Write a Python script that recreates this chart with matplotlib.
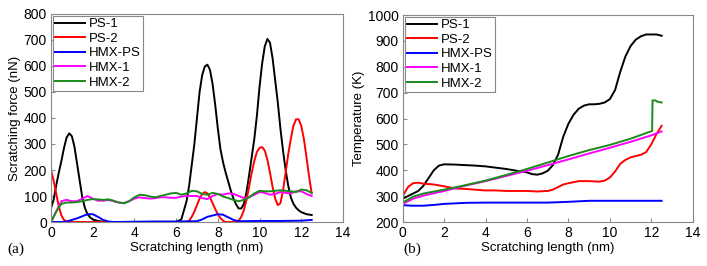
import matplotlib
matplotlib.use("Agg")
import matplotlib.pyplot as plt

# ---------------- Panel (a): scratching force ----------------
x_ps1_f = [0.0, 0.125, 0.25, 0.375, 0.5, 0.625, 0.75, 0.875, 1.0, 1.125, 1.25, 1.375, 1.5, 1.625,
           1.75, 1.875, 2.0, 2.25, 2.5, 2.75, 6.0, 6.25, 6.5, 6.625, 6.75, 6.875, 7.0, 7.125, 7.25,
           7.375, 7.5, 7.625, 7.75, 7.875, 8.0, 8.125, 8.25, 8.375, 8.5, 8.625, 8.75, 8.875, 9.0,
           9.125, 9.25, 9.375, 9.5, 9.625, 9.75, 9.875, 10.0, 10.125, 10.25, 10.375, 10.5, 10.625,
           10.75, 10.875, 11.0, 11.125, 11.25, 11.375, 11.5, 11.625, 11.75, 11.875, 12.0, 12.25, 12.5]
ps1_force = [53, 85, 140, 190, 235, 285, 325, 341, 330, 290, 225, 160, 95, 55,
             30, 18, 10, 4, 1, 0, 0, 10, 80, 140, 220, 300, 400, 500, 565,
             598, 605, 585, 530, 450, 360, 280, 230, 190, 155, 120, 90, 68, 52,
             52, 70, 115, 180, 250, 320, 410, 520, 610, 675, 704, 690, 630,
             545, 460, 360, 275, 200, 140, 95, 70, 55, 45, 38, 30, 27]

x_ps2_f = [0.0, 0.125, 0.25, 0.375, 0.5, 0.625, 0.75, 1.0, 6.5, 6.625, 6.75, 6.875, 7.0, 7.125,
           7.25, 7.375, 7.5, 7.625, 7.75, 7.875, 8.0, 8.125, 8.25, 8.375, 8.875, 9.0, 9.125, 9.25,
           9.375, 9.5, 9.625, 9.75, 9.875, 10.0, 10.125, 10.25, 10.375, 10.5, 10.625, 10.75,
           10.875, 11.0, 11.125, 11.25, 11.375, 11.5, 11.625, 11.75, 11.875, 12.0, 12.125, 12.25,
           12.375, 12.5]
ps2_force = [200, 160, 110, 60, 25, 8, 2, 0, 0, 5, 20, 40, 65, 90,
             108, 115, 110, 95, 72, 50, 30, 15, 5, 0, 0, 5, 20, 45,
             85, 135, 190, 235, 270, 285, 288, 275, 240, 190, 135, 90,
             65, 72, 120, 190, 260, 320, 370, 395, 395, 370, 320, 250,
             175, 110]

x_hmxps_f = [0.0, 0.5, 0.75, 1.0, 1.25, 1.5, 1.75, 2.0, 2.25, 2.5, 2.75, 3.0, 4.0, 5.0, 6.0,
             7.0, 7.25, 7.5, 7.75, 8.0, 8.25, 8.5, 8.75, 9.0, 10.0, 11.0, 12.0, 12.5]
hmxps_force = [0, 0, 2, 8, 14, 22, 30, 30, 20, 8, 2, 0, 1, 2, 2,
               3, 10, 20, 25, 30, 28, 18, 8, 3, 4, 4, 5, 8]

xa = [0.0, 0.25, 0.5, 0.75, 1.0, 1.25, 1.5, 1.75, 2.0, 2.25, 2.5, 2.75, 3.0, 3.25, 3.5, 3.75,
      4.0, 4.25, 4.5, 4.75, 5.0, 5.25, 5.5, 5.75, 6.0, 6.25, 6.5, 6.75, 7.0, 7.25, 7.5, 7.75,
      8.0, 8.25, 8.5, 8.75, 9.0, 9.25, 9.5, 9.75, 10.0, 10.25, 10.5, 10.75, 11.0, 11.25, 11.5,
      11.75, 12.0, 12.25, 12.5]
hmx1_force = [0, 40, 80, 85, 80, 80, 90, 100, 90, 82, 82, 85, 80, 75, 73, 80,
              90, 95, 92, 90, 92, 95, 95, 93, 93, 98, 100, 100, 100, 92, 88, 100,
              108, 105, 110, 108, 100, 92, 95, 105, 115, 112, 105, 108, 115, 112, 110,
              118, 118, 108, 100]
hmx2_force = [0, 40, 70, 75, 75, 77, 80, 85, 88, 87, 85, 87, 82, 75, 72, 80,
              95, 105, 103, 98, 95, 100, 105, 110, 112, 105, 110, 120, 118, 108, 105, 112,
              108, 98, 92, 85, 80, 85, 95, 110, 120, 118, 118, 120, 122, 120, 118,
              115, 125, 122, 112]

# ---------------- Panel (b): temperature ----------------
x_ps1_t = [0.0, 0.25, 0.5, 0.75, 1.0, 1.25, 1.5, 1.75, 2.0, 2.5, 3.0, 3.5, 4.0, 4.5, 5.0, 5.5,
           6.0, 6.25, 6.5, 6.75, 7.0, 7.25, 7.5, 7.75, 8.0, 8.25, 8.5, 8.75, 9.0, 9.25, 9.5,
           9.75, 10.0, 10.25, 10.5, 10.75, 11.0, 11.25, 11.5, 11.75, 12.0, 12.25, 12.5]
ps1_temp = [290, 300, 310, 320, 340, 370, 400, 418, 423, 422, 420, 418, 415, 410, 405, 398,
            392, 385, 383, 388, 398, 420, 460, 530, 580, 615, 638, 650, 655, 655, 657,
            662, 675, 710, 780, 840, 880, 905, 918, 925, 925, 925, 920]

x_ps2_t = [0.0, 0.25, 0.5, 0.75, 1.0, 1.5, 2.0, 2.5, 3.0, 3.5, 4.0, 4.5, 5.0, 5.5, 6.0, 6.5,
           7.0, 7.25, 7.5, 7.75, 8.0, 8.5, 9.0, 9.5, 9.75, 10.0, 10.25, 10.5, 10.75, 11.0,
           11.5, 11.75, 12.0, 12.25, 12.5]
ps2_temp = [300, 335, 350, 352, 348, 345, 338, 330, 328, 325, 322, 322, 320, 320, 320, 318,
            320, 325, 335, 345, 350, 358, 358, 356, 360, 372, 395, 425, 440, 450,
            460, 470, 500, 540, 572]

x_hmxps_t = [0.0, 0.5, 1.0, 1.5, 2.0, 2.5, 3.0, 4.0, 5.0, 6.0, 7.0, 8.0, 9.0, 10.0, 11.0, 12.0, 12.5]
hmxps_temp = [265, 263, 263, 266, 270, 272, 274, 275, 275, 275, 275, 278, 282, 282, 282, 282, 282]

x_hmx1_t = [0.0, 0.5, 1.0, 2.0, 3.0, 4.0, 5.0, 6.0, 7.0, 8.0, 9.0, 10.0, 11.0, 12.0, 12.5]
hmx1_temp = [270, 290, 302, 320, 340, 358, 378, 398, 420, 442, 465, 487, 510, 535, 550]

x_hmx2_t = [0.0, 0.5, 1.0, 2.0, 3.0, 4.0, 5.0, 6.0, 7.0, 8.0, 9.0, 10.0, 11.0, 11.9, 12.04,
            12.06, 12.2, 12.3, 12.5]
hmx2_temp = [275, 298, 310, 325, 342, 360, 382, 405, 430, 455, 478, 498, 522, 548, 552,
             670, 670, 665, 662]

labels = ["PS-1", "PS-2", "HMX-PS", "HMX-1", "HMX-2"]
colors = ["#000000", "#ff0000", "#0000ff", "#ff00ff", "#1a8a1a"]

plt.rcParams['font.family'] = ['Liberation Sans', 'DejaVu Sans']

fig = plt.figure(figsize=(7.07, 2.66), dpi=100)
ax1 = fig.add_axes([0.0721, 0.1654, 0.4130, 0.782])
ax2 = fig.add_axes([0.5696, 0.1654, 0.4102, 0.778])

lw = 1.4
force_series = [(x_ps1_f, ps1_force), (x_ps2_f, ps2_force), (x_hmxps_f, hmxps_force),
                (xa, hmx1_force), (xa, hmx2_force)]
for (x, y), lab, c in zip(force_series, labels, colors):
    ax1.plot(x, y, color=c, lw=lw, label=lab)

temp_series = [(x_ps1_t, ps1_temp), (x_ps2_t, ps2_temp), (x_hmxps_t, hmxps_temp),
               (x_hmx1_t, hmx1_temp), (x_hmx2_t, hmx2_temp)]
for (x, y), lab, c in zip(temp_series, labels, colors):
    ax2.plot(x, y, color=c, lw=lw, label=lab)

ax1.set_xlim(0, 14)
ax1.set_ylim(0, 800)
ax1.set_xticks(range(0, 15, 2))
ax1.set_yticks(range(0, 801, 100))
ax1.set_xlabel("Scratching length (nm)", fontsize=9.5, labelpad=1)
ax1.set_ylabel("Scratching force (nN)", fontsize=9.5, labelpad=2)

ax2.set_xlim(0, 14)
ax2.set_ylim(200, 1000)
ax2.set_xticks(range(0, 15, 2))
ax2.set_yticks(range(200, 1001, 100))
ax2.set_xlabel("Scratching length (nm)", fontsize=9.5, labelpad=1)
ax2.set_ylabel("Temperature (K)", fontsize=9.5, labelpad=2)

for ax in (ax1, ax2):
    ax.tick_params(direction='in', length=3, width=0.8, color='#888888', labelsize=10, pad=3)
    for s in ax.spines.values():
        s.set_color('#888888')
        s.set_linewidth(0.8)
    leg = ax.legend(loc='upper left', fontsize=9.5, frameon=True, fancybox=False,
                    handlelength=2.3, handletextpad=0.3, labelspacing=0.18,
                    borderpad=0.15, borderaxespad=0.15, framealpha=1)
    leg.get_frame().set_edgecolor('#888888')
    leg.get_frame().set_linewidth(0.8)

fig.text(0.010, 0.048, "(a)", fontsize=11, family=['Liberation Serif', 'DejaVu Serif'])
fig.text(0.571, 0.048, "(b)", fontsize=11, family=['Liberation Serif', 'DejaVu Serif'])

fig.savefig("out.png", dpi=100)
